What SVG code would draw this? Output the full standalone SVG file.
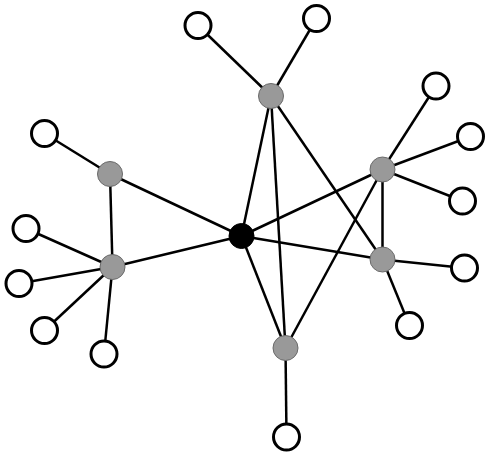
<svg xmlns="http://www.w3.org/2000/svg" width="490" height="457" viewBox="0 0 490 457">
<style>
.e{stroke:#000;stroke-width:2.5;fill:none}
.w{fill:#fff;stroke:#000;stroke-width:3}
.g{fill:#999;stroke:#6a6a6a;stroke-width:1}
.b{fill:#000;stroke:#000;stroke-width:1}
</style>
<rect width="490" height="457" fill="#fff"/>
<g id="connectors" class="e">
<line x1="241.5" y1="236" x2="271" y2="96"/>
<line x1="241.5" y1="236" x2="110" y2="174"/>
<line x1="241.5" y1="236" x2="112.5" y2="267"/>
<line x1="241.5" y1="236" x2="382.5" y2="169.5"/>
<line x1="241.5" y1="236" x2="382.5" y2="259.5"/>
<line x1="241.5" y1="236" x2="285.5" y2="348"/>
<line x1="271" y1="96" x2="285.5" y2="348"/>
<line x1="271" y1="96" x2="382.5" y2="259.5"/>
<line x1="285.5" y1="348" x2="382.5" y2="169.5"/>
<line x1="110" y1="174" x2="112.5" y2="267"/>
<line x1="382.5" y1="169.5" x2="382.5" y2="259.5"/>
<line x1="271" y1="96" x2="198" y2="25.5"/>
<line x1="271" y1="96" x2="316.5" y2="18.5"/>
<line x1="110" y1="174" x2="44.5" y2="133.5"/>
<line x1="112.5" y1="267" x2="26" y2="228.5"/>
<line x1="112.5" y1="267" x2="19" y2="283.5"/>
<line x1="112.5" y1="267" x2="44.5" y2="330.5"/>
<line x1="112.5" y1="267" x2="104" y2="354"/>
<line x1="382.5" y1="169.5" x2="436" y2="86"/>
<line x1="382.5" y1="169.5" x2="470.5" y2="136.5"/>
<line x1="382.5" y1="169.5" x2="462.5" y2="201"/>
<line x1="382.5" y1="259.5" x2="464.5" y2="268"/>
<line x1="382.5" y1="259.5" x2="409.5" y2="325.5"/>
<line x1="285.5" y1="348" x2="286.5" y2="437"/>
</g>
<g id="hub"><circle class="b" cx="241.5" cy="236" r="12.5"/></g>
<g id="g-top"><circle class="g" cx="271" cy="96" r="12.5"/></g>
<g id="g-left-top"><circle class="g" cx="110" cy="174" r="12.5"/></g>
<g id="g-left-bottom"><circle class="g" cx="112.5" cy="267" r="12.5"/></g>
<g id="g-right-top"><circle class="g" cx="382.5" cy="169.5" r="12.5"/></g>
<g id="g-right-bottom"><circle class="g" cx="382.5" cy="259.5" r="12.5"/></g>
<g id="g-bottom"><circle class="g" cx="285.5" cy="348" r="12.5"/></g>
<g id="w1"><circle class="w" cx="198" cy="25.5" r="13"/></g>
<g id="w2"><circle class="w" cx="316.5" cy="18.5" r="13"/></g>
<g id="w3"><circle class="w" cx="44.5" cy="133.5" r="13"/></g>
<g id="w4"><circle class="w" cx="26" cy="228.5" r="13"/></g>
<g id="w5"><circle class="w" cx="19" cy="283.5" r="13"/></g>
<g id="w6"><circle class="w" cx="44.5" cy="330.5" r="13"/></g>
<g id="w7"><circle class="w" cx="104" cy="354" r="13"/></g>
<g id="w8"><circle class="w" cx="436" cy="86" r="13"/></g>
<g id="w9"><circle class="w" cx="470.5" cy="136.5" r="13"/></g>
<g id="w10"><circle class="w" cx="462.5" cy="201" r="13"/></g>
<g id="w11"><circle class="w" cx="464.5" cy="268" r="13"/></g>
<g id="w12"><circle class="w" cx="409.5" cy="325.5" r="13"/></g>
<g id="w13"><circle class="w" cx="286.5" cy="437" r="13"/></g>
</svg>
